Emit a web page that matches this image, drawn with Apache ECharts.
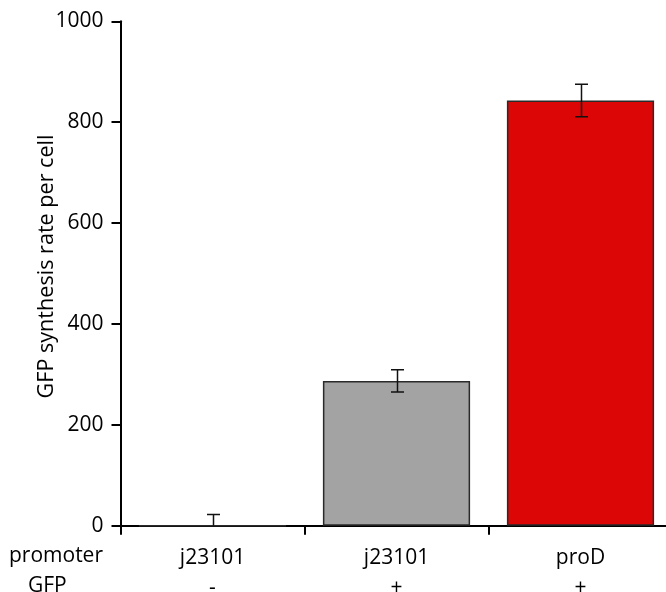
<!DOCTYPE html>
<html>
<head>
<meta charset="utf-8">
<script src="https://cdn.jsdelivr.net/npm/echarts@6/dist/echarts.min.js"></script>
<style>
  html, body { margin: 0; padding: 0; background: #fff; }
  #chart { width: 666px; height: 592px; }
</style>
</head>
<body>
<div id="chart"></div>
<script>
// Promoter / GFP construct for each bar
const promoters = ['j23101', 'j23101', 'proD'];
const gfpFlags = ['-', '+', '+'];
// GFP synthesis rate per cell (mean) and its error
const rates = [0, 287, 843];
const errors = [22, 22, 32];
const barColors = ['#a3a3a3', '#a3a3a3', '#dc0606'];
const yTicks = [0, 200, 400, 600, 800, 1000];

const FONT = '"Open Sans", "Noto Sans", sans-serif';
const FS = 21;
const categories = promoters.map((p, i) => p + '\n' + gfpFlags[i]);

const chart = echarts.init(document.getElementById('chart'), null, { renderer: 'canvas' });

chart.setOption({
  animation: false,
  backgroundColor: '#fff',
  // the category axis runs slightly past the right edge of the canvas
  grid: {
    left: 120.5, width: 552, top: 21.3, height: 504.4,
    containLabel: false, outerBoundsMode: 'none'
  },
  xAxis: {
    type: 'category',
    data: categories,
    boundaryGap: true,
    axisLine: { show: true, lineStyle: { color: '#000', width: 2 } },
    axisTick: { show: true, alignWithLabel: false, length: 9, lineStyle: { color: '#000', width: 2 } },
    axisLabel: {
      color: '#000', fontFamily: FONT, fontSize: FS, lineHeight: 30, margin: 17,
      interval: 0
    },
    splitLine: { show: false }
  },
  yAxis: {
    type: 'value',
    min: yTicks[0],
    max: yTicks[yTicks.length - 1],
    interval: yTicks[1] - yTicks[0],
    name: 'GFP synthesis rate per cell',
    nameLocation: 'middle',
    nameGap: 63,
    nameRotate: 90,
    nameMoveOverlap: false,
    nameTextStyle: { color: '#000', fontFamily: FONT, fontSize: 21.6, padding: [0, 0, 0, 14] },
    axisLine: { show: true, lineStyle: { color: '#000', width: 2 } },
    axisTick: { show: true, length: 9, lineStyle: { color: '#000', width: 2 } },
    axisLabel: { color: '#000', fontFamily: FONT, fontSize: FS, margin: 17, formatter: v => String(v) },
    splitLine: { show: false }
  },
  graphic: [
    { type: 'text', left: 9, top: 546, style: { text: 'promoter', font: FS + 'px ' + FONT, fill: '#000' } },
    { type: 'text', left: 28, top: 576, style: { text: 'GFP', font: FS + 'px ' + FONT, fill: '#000' } }
  ],
  series: [
    {
      type: 'bar',
      barWidth: '80%',
      z: 1,
      data: rates.map((v, i) => ({
        value: v,
        itemStyle: { color: barColors[i], borderColor: '#2a2a2a', borderWidth: 1.5 }
      }))
    },
    {
      type: 'custom',
      z: 3,
      clip: true,
      data: rates.map((v, i) => [i, v - errors[i], v + errors[i]]),
      renderItem: function (params, api) {
        const lo = api.coord([api.value(0), api.value(1)]);
        const hi = api.coord([api.value(0), api.value(2)]);
        const x = Math.round(hi[0]) + 0.5;
        const half = 6.5;
        const style = { stroke: '#111', lineWidth: 1.5, fill: null };
        return {
          type: 'group',
          children: [
            { type: 'line', shape: { x1: x, y1: lo[1], x2: x, y2: hi[1] }, style: style },
            { type: 'line', shape: { x1: x - half, y1: hi[1], x2: x + half, y2: hi[1] }, style: style },
            { type: 'line', shape: { x1: x - half, y1: lo[1], x2: x + half, y2: lo[1] }, style: style }
          ]
        };
      }
    }
  ]
});
</script>
</body>
</html>
